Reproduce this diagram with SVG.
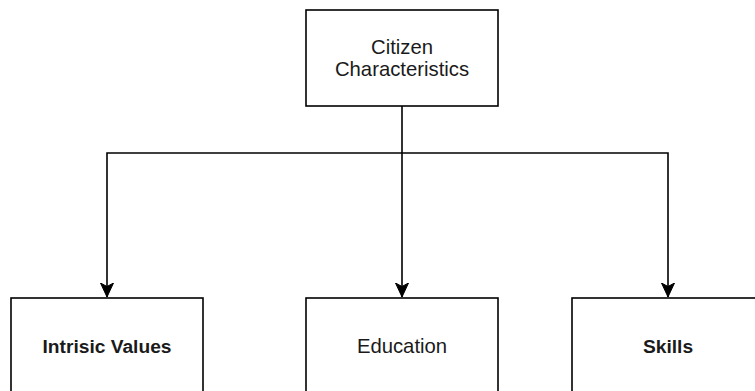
<svg xmlns="http://www.w3.org/2000/svg" width="755" height="391" viewBox="0 0 755 391">
<style>
.box{fill:#fff;stroke:#000;stroke-width:1.6}
.edge{fill:none;stroke:#000;stroke-width:1.6}
text{font-family:"Liberation Sans",Arial,sans-serif;font-size:20.3px;fill:#1a1a1a;text-anchor:middle}
.b{font-weight:bold;font-size:19.2px}
</style>
<defs>
<marker id="arr" markerUnits="userSpaceOnUse" markerWidth="16" markerHeight="16" refX="14" refY="7" orient="auto" viewBox="0 0 16 14">
<path d="M14,7 L0,0.5 L3.5,7 L0,13.5 Z" fill="#000" stroke="#000" stroke-width="1"/>
</marker>
</defs>
<rect width="755" height="391" fill="#fff"/>
<g id="connectors">
<path class="edge" d="M402,106 V297" marker-end="url(#arr)"/>
<path class="edge" d="M402,153 H107 V297" marker-end="url(#arr)"/>
<path class="edge" d="M402,153 H668 V297" marker-end="url(#arr)"/>
</g>
<g id="citizen">
<rect class="box" x="306" y="10" width="192" height="96"/>
<text x="402" y="54">Citizen</text>
<text x="402" y="76">Characteristics</text>
</g>
<g id="intrisic">
<rect class="box" x="11" y="298" width="192" height="96"/>
<text class="b" x="107" y="353">Intrisic Values</text>
</g>
<g id="education">
<rect class="box" x="306" y="298" width="192" height="96"/>
<text x="402" y="353">Education</text>
</g>
<g id="skills">
<rect class="box" x="572" y="298" width="192" height="96"/>
<text class="b" x="668" y="353">Skills</text>
</g>
</svg>
